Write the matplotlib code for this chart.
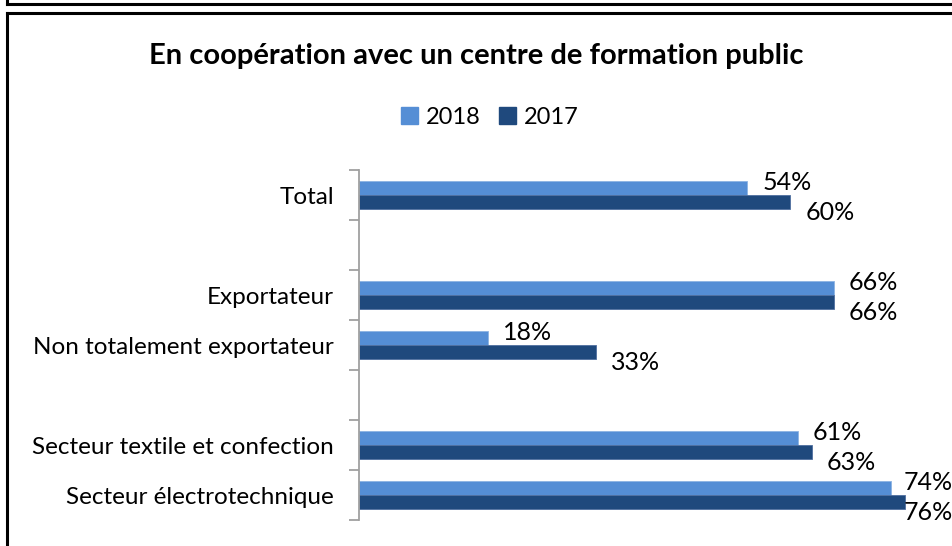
import matplotlib.pyplot as plt
from matplotlib.patches import Patch
from matplotlib.lines import Line2D

plt.rcParams['font.family'] = ['Lato', 'DejaVu Sans']

# data (empty strings are the gaps between the groups)
categories = ['Total', '', 'Exportateur', 'Non totalement exportateur', '',
              'Secteur textile et confection', 'Secteur électrotechnique']
val_2018 = [54, None, 66, 18, None, 61, 74]
val_2017 = [60, None, 66, 33, None, 63, 76]
labels_2018 = ['54%', '', '66%', '18%', '', '61%', '74%']
labels_2017 = ['60%', '', '66%', '33%', '', '63%', '76%']

c18 = '#558ED5'
c17 = '#1F497D'

W, H = 952, 546
fig = plt.figure(figsize=(W / 100, H / 100), dpi=100)

# frames (previous chart bottom, this chart border)
fig.add_artist(Line2D([7 / W, 1], [1 - 4 / H, 1 - 4 / H], color='black', lw=2.2))
fig.add_artist(Line2D([7 / W, 7 / W], [1, 1 - 4 / H], color='black', lw=2.2))
fig.add_artist(Line2D([7 / W, 1], [1 - 13 / H, 1 - 13 / H], color='black', lw=2.2))
fig.add_artist(Line2D([7 / W, 7 / W], [0, 1 - 13 / H], color='black', lw=2.2))

ax_left = 359 / W
ax_bottom = 1 - 520 / H
ax_top = 1 - 170 / H
ax = fig.add_axes([ax_left, ax_bottom, 1 - ax_left, ax_top - ax_bottom])

px_per_pct = 7.19
xmax = (W - 359) / px_per_pct
last_x = (904 - 359) / px_per_pct  # labels pushed inside the plot at the right edge
h = 0.28
n = len(categories)
off = 15 / px_per_pct
for i in range(n):
    if val_2018[i] is None:
        continue
    ax.barh(i - h / 2, val_2018[i], height=h, color=c18, edgecolor='#8DB3E2', linewidth=0.6)
    ax.barh(i + h / 2, val_2017[i], height=h, color=c17, edgecolor='#4F6FA0', linewidth=0.6)
    ax.text(min(val_2018[i] + off, last_x), i - h / 2 - 0.12, labels_2018[i], fontsize=18,
            va='center', ha='left', color='black')
    ax.text(min(val_2017[i] + off, last_x), i + h / 2 + 0.2, labels_2017[i], fontsize=18,
            va='center', ha='left', color='black')

ax.set_xlim(0, xmax)
ax.set_ylim(n - 0.5, -0.5)
ax.set_yticks(range(n))
ax.set_yticklabels(categories, fontsize=17.5)
ax.set_yticks([i - 0.5 for i in range(n + 1)], minor=True)
ax.tick_params(axis='y', which='major', length=0, pad=18)
ax.tick_params(axis='y', which='minor', length=7, color='#A0A0A0', width=1.3)
ax.set_xticks([])
for s in ['top', 'right', 'bottom']:
    ax.spines[s].set_visible(False)
ax.spines['left'].set_color('#A0A0A0')
ax.spines['left'].set_linewidth(1.3)

fig.text(476 / W, 1 - 56 / H, 'En coopération avec un centre de formation public',
         ha='center', va='center', fontsize=21, fontweight='bold')

handles = [Patch(color=c18, label='2018'), Patch(color=c17, label='2017')]
fig.legend(handles=handles, loc='center', bbox_to_anchor=(490 / W, 1 - 117 / H),
           ncol=2, frameon=False, fontsize=17, handlelength=0.7, handleheight=0.7,
           handletextpad=0.35, columnspacing=0.8)

fig.savefig('out.png', dpi=100)
